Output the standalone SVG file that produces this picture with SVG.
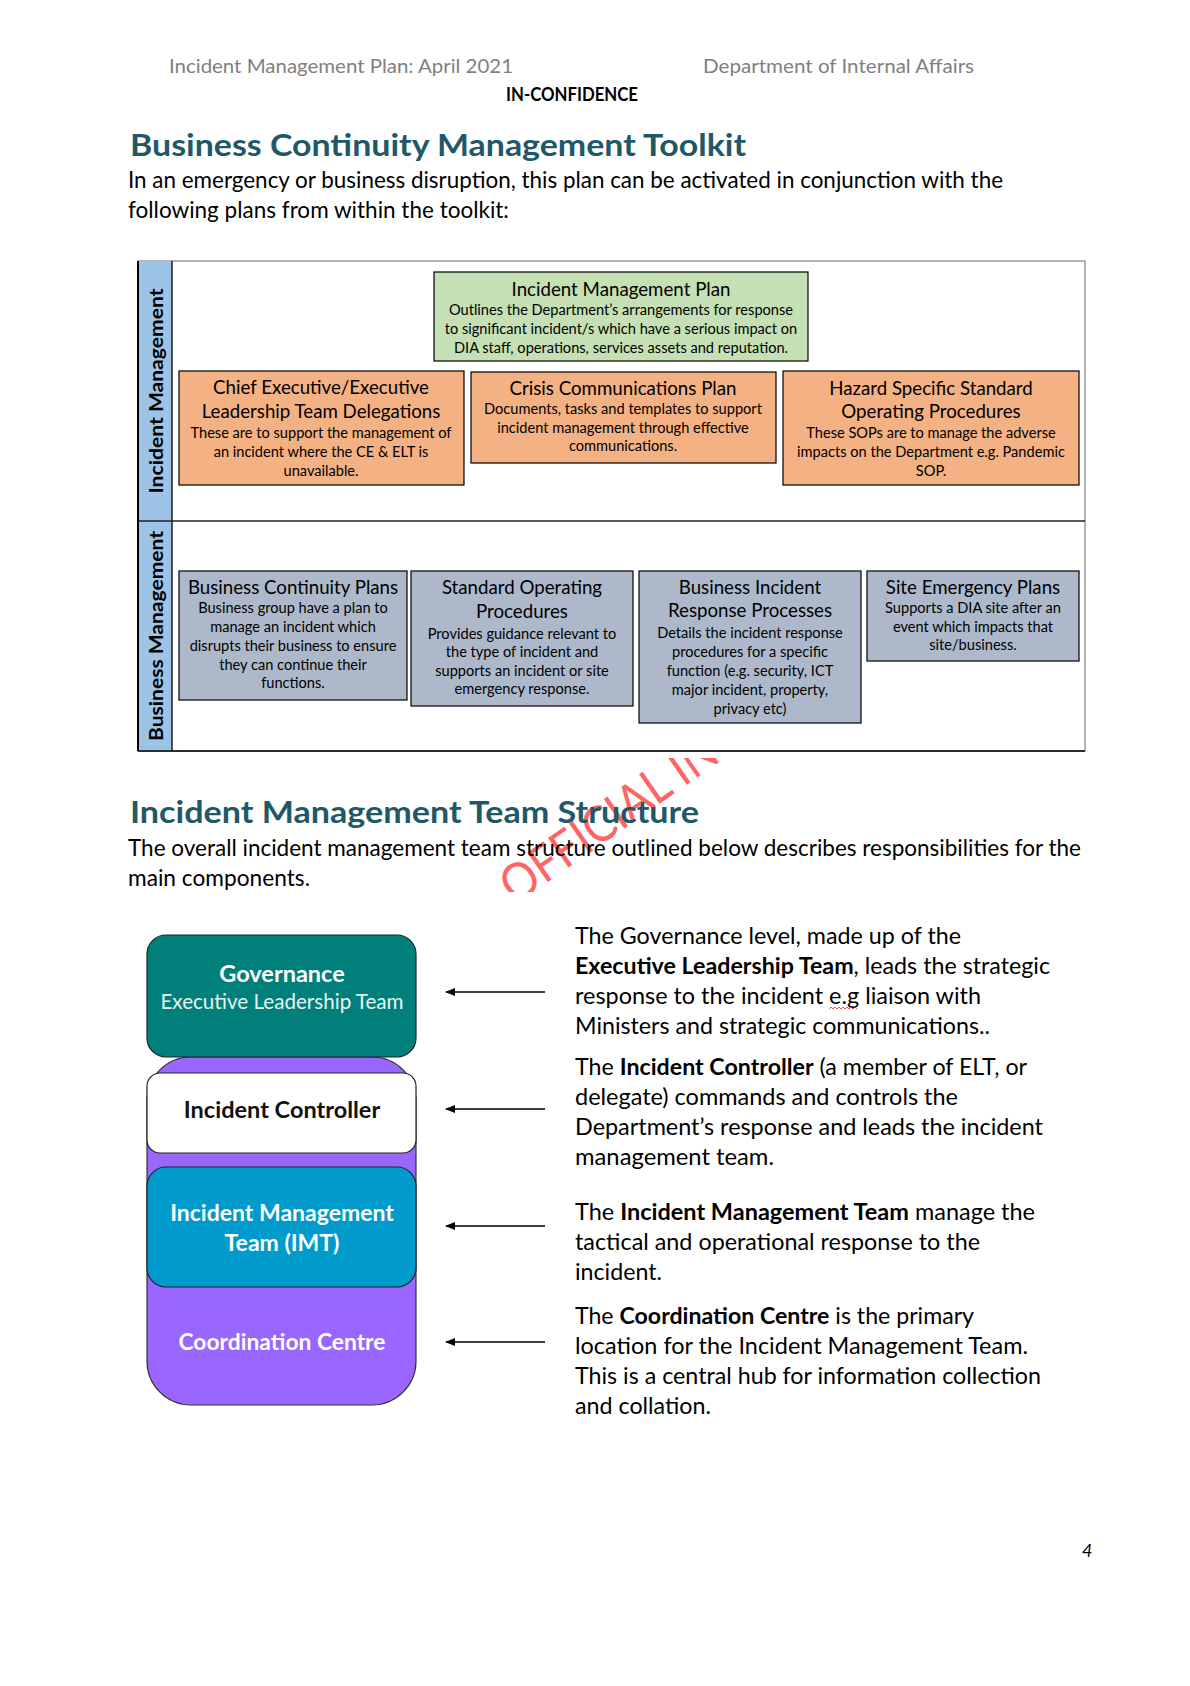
<svg xmlns="http://www.w3.org/2000/svg" width="1190" height="1686" viewBox="0 0 1190 1686">
<defs>
<style>
text{font-family:Lato,'Liberation Sans',sans-serif;}
.hdr{font-size:19px;fill:#7f7f7f}
.conf{font-size:18px;font-weight:bold;fill:#000}
.h1{font-size:31px;font-weight:bold;fill:#215868}
.body{font-size:22.5px;fill:#000}
.bt{font-size:18.7px;text-anchor:middle;fill:#000}
.bs{font-size:14.6px;text-anchor:middle;fill:#000}
.box{stroke:#000;stroke-width:1.2}
.vl{font-size:19px;font-weight:bold;text-anchor:middle;fill:#000}
.conn{stroke:#000;stroke-width:1.5;fill:none}
.wt{fill:#fff;font-weight:bold;text-anchor:middle}
</style>
<marker id="ah" markerWidth="10" markerHeight="8" refX="9" refY="4" orient="auto" markerUnits="userSpaceOnUse"><path d="M0,0 L10,4 L0,8 z" fill="#000"/></marker>
<clipPath id="wm"><rect x="430" y="758" width="320" height="134"/></clipPath>
</defs>
<rect width="1190" height="1686" fill="#fff"/>

<g id="header">
<text class="hdr" x="169" y="73" textLength="344" lengthAdjust="spacingAndGlyphs">Incident Management Plan: April 2021</text>
<text class="hdr" x="703" y="73" textLength="271" lengthAdjust="spacingAndGlyphs">Department of Internal Affairs</text>
<text class="conf" x="506" y="101" textLength="132" lengthAdjust="spacingAndGlyphs">IN-CONFIDENCE</text>
</g>

<g id="intro">
<text class="h1" x="130" y="156" textLength="616" lengthAdjust="spacingAndGlyphs">Business Continuity Management Toolkit</text>
<text class="body" x="128" y="188" textLength="875" lengthAdjust="spacingAndGlyphs">In an emergency or business disruption, this plan can be activated in conjunction with the</text>
<text class="body" x="128" y="218" textLength="381" lengthAdjust="spacingAndGlyphs">following plans from within the toolkit:</text>
</g>

<g id="toolkit-frame">
<rect x="138" y="261" width="947" height="490" fill="#fff" stroke="#808080" stroke-width="1.2"/>
<rect x="138" y="261" width="34" height="490" fill="#9dc3e6"/>
<line x1="138" y1="261" x2="138" y2="751" stroke="#000" stroke-width="2"/>
<line x1="172" y1="261" x2="172" y2="751" stroke="#000" stroke-width="1.3"/>
<line x1="138" y1="521" x2="1085" y2="521" stroke="#222" stroke-width="1.5"/>
<line x1="138" y1="751" x2="1085" y2="751" stroke="#000" stroke-width="1.5"/>
<text class="vl" x="163" y="391" transform="rotate(-90 163 391)" textLength="205" lengthAdjust="spacingAndGlyphs">Incident Management</text>
<text class="vl" x="163" y="636" transform="rotate(-90 163 636)" textLength="210" lengthAdjust="spacingAndGlyphs">Business Management</text>
</g>

<g id="imp">
<rect class="box" x="434" y="272" width="374" height="89" fill="#c5e0b4"/>
<text class="bt" x="621" y="296">Incident Management Plan</text>
<text class="bs" x="621" y="315">Outlines the Department’s arrangements for response</text>
<text class="bs" x="621" y="334">to significant incident/s which have a serious impact on</text>
<text class="bs" x="621" y="353">DIA staff, operations, services assets and reputation.</text>
</g>

<g id="ce-elt">
<rect class="box" x="179" y="371" width="285" height="114" fill="#f4b183"/>
<text class="bt" x="321" y="394">Chief Executive/Executive</text>
<text class="bt" x="321" y="418">Leadership Team Delegations</text>
<text class="bs" x="321" y="438">These are to support the management of</text>
<text class="bs" x="321" y="457">an incident where the CE &amp; ELT is</text>
<text class="bs" x="321" y="476">unavailable.</text>
</g>

<g id="crisis">
<rect class="box" x="471" y="372" width="305" height="91" fill="#f4b183"/>
<text class="bt" x="623" y="395">Crisis Communications Plan</text>
<text class="bs" x="623" y="414">Documents, tasks and templates to support</text>
<text class="bs" x="623" y="433">incident management through effective</text>
<text class="bs" x="623" y="451">communications.</text>
</g>

<g id="hazard">
<rect class="box" x="783" y="371" width="296" height="114" fill="#f4b183"/>
<text class="bt" x="931" y="395">Hazard Specific Standard</text>
<text class="bt" x="931" y="418">Operating Procedures</text>
<text class="bs" x="931" y="438">These SOPs are to manage the adverse</text>
<text class="bs" x="931" y="457">impacts on the Department e.g. Pandemic</text>
<text class="bs" x="931" y="476">SOP.</text>
</g>

<g id="bcp">
<rect class="box" x="179" y="571" width="228" height="129" fill="#adb9ca"/>
<text class="bt" x="293" y="594">Business Continuity Plans</text>
<text class="bs" x="293" y="613">Business group have a plan to</text>
<text class="bs" x="293" y="632">manage an incident which</text>
<text class="bs" x="293" y="651">disrupts their business to ensure</text>
<text class="bs" x="293" y="670">they can continue their</text>
<text class="bs" x="293" y="688">functions.</text>
</g>

<g id="sop">
<rect class="box" x="411" y="571" width="222" height="135" fill="#adb9ca"/>
<text class="bt" x="522" y="594">Standard Operating</text>
<text class="bt" x="522" y="618">Procedures</text>
<text class="bs" x="522" y="639">Provides guidance relevant to</text>
<text class="bs" x="522" y="657">the type of incident and</text>
<text class="bs" x="522" y="676">supports an incident or site</text>
<text class="bs" x="522" y="694">emergency response.</text>
</g>

<g id="birp">
<rect class="box" x="639" y="571" width="222" height="152" fill="#adb9ca"/>
<text class="bt" x="750" y="594">Business Incident</text>
<text class="bt" x="750" y="617">Response Processes</text>
<text class="bs" x="750" y="638">Details the incident response</text>
<text class="bs" x="750" y="657">procedures for a specific</text>
<text class="bs" x="750" y="676">function (e.g. security, ICT</text>
<text class="bs" x="750" y="695">major incident, property,</text>
<text class="bs" x="750" y="714">privacy etc)</text>
</g>

<g id="site">
<rect class="box" x="867" y="571" width="212" height="90" fill="#adb9ca"/>
<text class="bt" x="973" y="594">Site Emergency Plans</text>
<text class="bs" x="973" y="613">Supports a DIA site after an</text>
<text class="bs" x="973" y="632">event which impacts that</text>
<text class="bs" x="973" y="650">site/business.</text>
</g>

<g id="watermark" clip-path="url(#wm)">
<text transform="translate(515 905) rotate(-35) scale(0.9 1)" x="0" y="0" font-size="50" fill="#ff3b3b" fill-opacity="0.8">OFFICIAL IN-CONFIDENCE</text>
</g>

<g id="section2">
<text class="h1" x="130" y="823" textLength="569" lengthAdjust="spacingAndGlyphs">Incident Management Team Structure</text>
<text class="body" x="128" y="856" textLength="953" lengthAdjust="spacingAndGlyphs">The overall incident management team structure outlined below describes responsibilities for the</text>
<text class="body" x="128" y="886" textLength="182" lengthAdjust="spacingAndGlyphs">main components.</text>
</g>

<g id="coordination-centre">
<rect x="147" y="1057" width="269" height="348" rx="44" ry="44" fill="#9966ff" stroke="#333" stroke-width="1.2"/>
<text class="wt" x="282" y="1350" font-size="22.8">Coordination Centre</text>
</g>

<g id="governance">
<rect x="147" y="935" width="269" height="122" rx="19" ry="19" fill="#007f7b" stroke="#222" stroke-width="1.2"/>
<text class="wt" x="282" y="982" font-size="23.5">Governance</text>
<text x="282" y="1009" font-size="20.6" fill="#e8f4f3" text-anchor="middle">Executive Leadership Team</text>
</g>

<g id="incident-controller">
<rect x="147" y="1073" width="269" height="80" rx="13" ry="13" fill="#fff" stroke="#222" stroke-width="1.2"/>
<text x="282" y="1118" font-size="23.5" font-weight="bold" fill="#111" text-anchor="middle">Incident Controller</text>
</g>

<g id="imt">
<rect x="147" y="1167" width="269" height="120" rx="19" ry="19" fill="#009bcc" stroke="#222" stroke-width="1.2"/>
<text class="wt" x="282" y="1221" font-size="23">Incident Management</text>
<text class="wt" x="282" y="1251" font-size="23">Team (IMT)</text>
</g>

<g id="connectors">
<line class="conn" x1="545" y1="992" x2="446" y2="992" marker-end="url(#ah)"/>
<line class="conn" x1="545" y1="1109" x2="446" y2="1109" marker-end="url(#ah)"/>
<line class="conn" x1="545" y1="1226" x2="446" y2="1226" marker-end="url(#ah)"/>
<line class="conn" x1="545" y1="1342" x2="446" y2="1342" marker-end="url(#ah)"/>
</g>

<g id="descriptions">
<text class="body" x="575" y="944" textLength="386" lengthAdjust="spacingAndGlyphs">The Governance level, made up of the</text>
<text class="body" x="575" y="974" textLength="475" lengthAdjust="spacingAndGlyphs"><tspan font-weight="bold">Executive Leadership Team</tspan>, leads the strategic</text>
<text class="body" x="575" y="1004" textLength="406" lengthAdjust="spacingAndGlyphs">response to the incident e.g liaison with</text>
<polyline points="829,1009 831,1007 833,1009 835,1007 837,1009 839,1007 841,1009 843,1007 845,1009 847,1007 849,1009 851,1007 853,1009 855,1007 857,1009" fill="none" stroke="#e03030" stroke-width="0.8"/>
<text class="body" x="575" y="1034" textLength="415" lengthAdjust="spacingAndGlyphs">Ministers and strategic communications..</text>

<text class="body" x="575" y="1075" textLength="452" lengthAdjust="spacingAndGlyphs">The <tspan font-weight="bold">Incident Controller</tspan> (a member of ELT, or</text>
<text class="body" x="575" y="1105" textLength="383" lengthAdjust="spacingAndGlyphs">delegate) commands and controls the</text>
<text class="body" x="575" y="1135" textLength="468" lengthAdjust="spacingAndGlyphs">Department’s response and leads the incident</text>
<text class="body" x="575" y="1165" textLength="199" lengthAdjust="spacingAndGlyphs">management team.</text>

<text class="body" x="575" y="1220" textLength="460" lengthAdjust="spacingAndGlyphs">The <tspan font-weight="bold">Incident Management Team</tspan> manage the</text>
<text class="body" x="575" y="1250" textLength="405" lengthAdjust="spacingAndGlyphs">tactical and operational response to the</text>
<text class="body" x="575" y="1280" textLength="87" lengthAdjust="spacingAndGlyphs">incident.</text>

<text class="body" x="575" y="1324" textLength="399" lengthAdjust="spacingAndGlyphs">The <tspan font-weight="bold">Coordination Centre</tspan> is the primary</text>
<text class="body" x="575" y="1354" textLength="453" lengthAdjust="spacingAndGlyphs">location for the Incident Management Team.</text>
<text class="body" x="575" y="1384" textLength="466" lengthAdjust="spacingAndGlyphs">This is a central hub for information collection</text>
<text class="body" x="575" y="1414" textLength="136" lengthAdjust="spacingAndGlyphs">and collation.</text>
</g>

<g id="footer">
<text x="1082" y="1557" font-size="18" font-style="italic" fill="#000">4</text>
</g>
</svg>
